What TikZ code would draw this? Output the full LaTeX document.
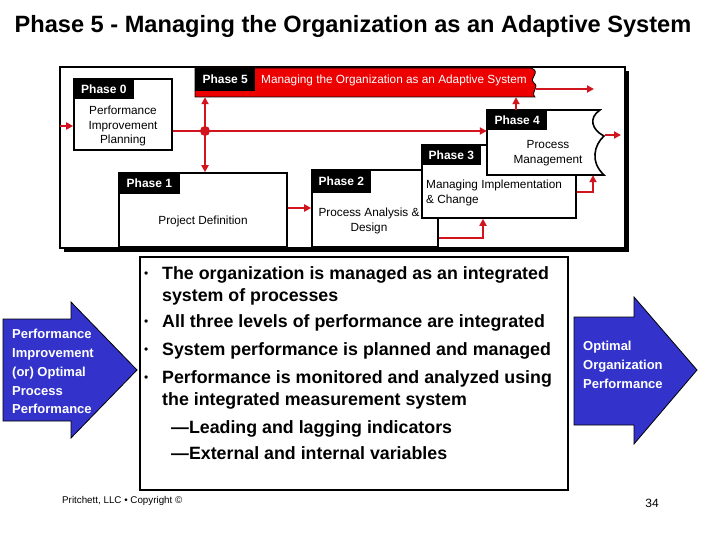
\documentclass[tikz,border=0pt]{standalone}
\usepackage{fontspec}
\setmainfont{Liberation Sans}
\usetikzlibrary{arrows.meta,fit}
\definecolor{redline}{RGB}{210,20,30}
\definecolor{bannerred}{RGB}{236,0,0}
\definecolor{arrowblue}{RGB}{51,51,204}
\begin{document}
\begin{tikzpicture}[x=1pt,y=-1pt,
  conn/.style={draw=redline, line width=2pt},
  arr/.style={conn, -{Triangle[length=7pt,width=7pt]}},
  box/.style={draw=black, line width=1.6pt, fill=white, rectangle, inner sep=0pt},
  tab/.style={fill=black, text=white, font=\bfseries\fontsize{12}{14}\selectfont, inner sep=0pt, anchor=north west},
  lbl/.style={font=\fontsize{11.8}{14.5}\selectfont, align=center, inner sep=0pt},
  bul/.style={font=\bfseries\fontsize{17.8}{21}\selectfont, anchor=base west, inner sep=0pt},
  bdot/.style={font=\fontsize{12}{14}\selectfont, anchor=base west, inner sep=0pt},
  bigarrow/.style={fill=arrowblue, draw=black, line width=0.8pt},
  arrowtext/.style={text=white, font=\bfseries\fontsize{13}{18.8}\selectfont, align=left, inner sep=0pt, anchor=north west}
]
\useasboundingbox (0,0) rectangle (720,540);
\fill[white] (0,0) rectangle (720,540);

% title
\node[font=\bfseries\fontsize{23.6}{28}\selectfont, inner sep=0pt] (title) at (353,26) {Phase 5 - Managing the Organization as an Adaptive System};

% outer frame with shadow
\fill[black] (64,71) rectangle (629,252);
\node[box, line width=1.2pt, fit={(60,67) (625,248)}] (frame) {};

% Phase 0
\node[box, fit={(74,79) (172,150)}] (p0) {};
\node[tab, minimum width=61pt, minimum height=21pt] (t0) at (p0.north west) {Phase 0};
\node[lbl] (l0) at (123,126) {Performance\\Improvement\\Planning};

% Phase 5 banner
\fill[bannerred, draw=black, line width=0.8pt] (195,68) -- (531,68)
  .. controls (542,72) and (528,78) .. (534,83)
  .. controls (540,87) and (530,92) .. (535,97) -- (195,97) -- cycle;
\node[inner sep=0pt, fit={(195,68) (534,97)}] (p5) {};
\node[tab, minimum width=60pt, minimum height=23pt] (t5) at (195,68) {Phase 5};
\node[text=white, font=\fontsize{11.8}{14}\selectfont, anchor=west, inner sep=0pt] (l5) at (261,80) {Managing the Organization as an Adaptive System};

% Phase 1
\node[box, fit={(119,173) (287,247)}] (p1) {};
\node[tab, minimum width=62pt, minimum height=22pt] (t1) at (p1.north west) {Phase 1};
\node[lbl] (l1) at (203,221) {Project Definition};

% Phase 2
\node[box, fit={(312,170) (438,247)}] (p2) {};
\node[tab, minimum width=60pt, minimum height=24pt] (t2) at (p2.north west) {Phase 2};
\node[lbl] (l2) at (369,221) {Process Analysis \&\\Design};

% Phase 3
\node[box, fit={(422,145) (576,218)}] (p3) {};
\node[tab, minimum width=60pt, minimum height=21pt] (t3) at (p3.north west) {Phase 3};
\node[lbl, align=left, anchor=north west] (l3) at (426,180) {Managing Implementation\\\& Change};

% Phase 4 (wavy right edge)
\filldraw[fill=white, draw=black, line width=1.6pt] (487,110) -- (600,110)
  .. controls (588,118) and (592,130) .. (604,136)
  .. controls (594,145) and (590,162) .. (604,175) -- (487,175) -- cycle;
\node[inner sep=0pt, fit={(487,110) (603,175)}] (p4) {};
\node[tab, minimum width=60pt, minimum height=20pt] (t4) at (487,110) {Phase 4};
\node[lbl] (l4) at (548,153) {Process\\Management};

% connector coordinates
\coordinate (in0) at (60,126);
\coordinate (jn) at (205,131);
\coordinate (c12) at (300,208);
\coordinate (c23) at (483,238);
\coordinate (c34) at (593,192);
\coordinate (c45) at (516,140);
\coordinate (out5) at (594,89);
\coordinate (out4) at (621,135);

% connectors
\draw[arr] (in0) -- (p0.west |- in0);
\draw[conn] (p0.east |- jn) -- (jn);
\draw[arr] (jn) -- (p4.west |- jn);
\draw[arr] (jn) -- (p5.south -| jn);
\draw[arr] (jn) -- (p1.north -| jn);
\fill[redline] (jn) circle (5pt);
\draw[arr] (p1.east |- c12) -- (p2.west |- c12);
\draw[arr] (p2.east |- c23) -| (p3.south -| c23);
\draw[arr] (p3.east |- c34) -| (p4.south -| c34);
\draw[arr] (p4.north -| c45) -- (p5.south -| c45);
\draw[arr] (536,89) -- (out5);
\draw[arr] (605,135) -- (out4);

% bullet box
\node[box, line width=1.8pt, fit={(140,257) (568,490)}] (blt) {};
\node[bdot] at (144,277) {•};
\node[bul] at (162,279) {The organization is managed as an integrated};
\node[bul] at (162,301) {system of processes};
\node[bdot] at (144,325) {•};
\node[bul] at (162,327) {All three levels of performance are integrated};
\node[bdot] at (144,353) {•};
\node[bul] at (162,355) {System performance is planned and managed};
\node[bdot] at (144,381) {•};
\node[bul] at (162,383) {Performance is monitored and analyzed using};
\node[bul] at (162,405) {the integrated measurement system};
\node[bul] at (171,433) {—Leading and lagging indicators};
\node[bul] at (171,459) {—External and internal variables};

% left blue arrow
\filldraw[bigarrow] (3,319) -- (71,319) -- (71,302) -- (137,370) -- (71,438) -- (71,421) -- (3,421) -- cycle;
\node[arrowtext] (la) at (12,329) {Performance\\Improvement\\(or) Optimal\\Process\\Performance};

% right blue arrow
\filldraw[bigarrow] (574,317) -- (634,317) -- (634,297) -- (697,370) -- (634,444) -- (634,425) -- (574,425) -- cycle;
\node[arrowtext, font=\bfseries\fontsize{13}{19}\selectfont] (ra) at (583,341) {Optimal\\Organization\\Performance};

% footer
\node[font=\fontsize{9.8}{12}\selectfont, anchor=west, inner sep=0pt] (copy) at (62,501) {Pritchett, LLC • Copyright ©};
\node[font=\fontsize{12}{14}\selectfont, inner sep=0pt] (pg) at (652,503) {34};
\end{tikzpicture}
\end{document}
